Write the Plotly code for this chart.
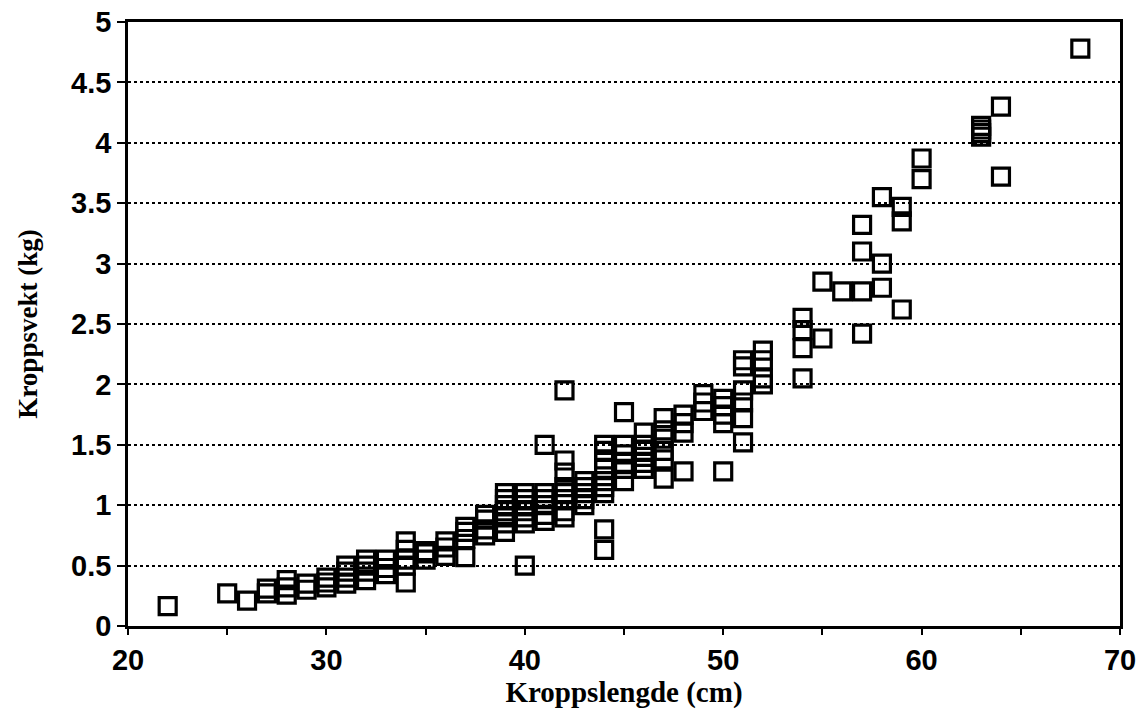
import plotly.graph_objects as go

# Body length (cm) and body weight (kg), grouped by length
lengths = [
    22,
    25,
    26,
    27, 27,
    28, 28, 28,
    29, 29,
    30, 30, 30,
    31, 31, 31, 31,
    32, 32, 32, 32,
    33, 33, 33,
    34, 34, 34, 34, 34,
    35, 35, 35,
    36, 36, 36,
    37, 37, 37, 37,
    38, 38, 38, 38,
    39, 39, 39, 39, 39, 39, 39,
    40, 40, 40, 40, 40, 40, 40,
    41, 41, 41, 41, 41, 41,
    42, 42, 42, 42, 42, 42, 42, 42,
    43, 43, 43, 43, 43,
    44, 44, 44, 44, 44, 44, 44, 44, 44,
    45, 45, 45, 45, 45, 45,
    46, 46, 46, 46, 46, 46,
    47, 47, 47, 47, 47, 47,
    48, 48, 48, 48,
    49, 49, 49,
    50, 50, 50, 50, 50,
    51, 51, 51, 51, 51, 51,
    52, 52, 52, 52,
    54, 54, 54, 54,
    55, 55,
    56,
    57, 57, 57, 57,
    58, 58, 58,
    59, 59, 59,
    60, 60,
    63, 63, 63, 63,
    64, 64,
    68,
]
weights = [
    0.165,
    0.27,
    0.21,
    0.27, 0.31,
    0.26, 0.32, 0.38,
    0.30, 0.35,
    0.32, 0.36, 0.40,
    0.35, 0.40, 0.45, 0.50,
    0.38, 0.45, 0.50, 0.55,
    0.43, 0.48, 0.55,
    0.36, 0.50, 0.55, 0.63, 0.70,
    0.55, 0.60, 0.62,
    0.58, 0.65, 0.70,
    0.57, 0.72, 0.78, 0.82,
    0.75, 0.80, 0.88, 0.92,
    0.78, 0.85, 0.90, 0.95, 1.00, 1.05, 1.10,
    0.50, 0.85, 0.90, 0.95, 1.00, 1.05, 1.10,
    0.87, 0.92, 1.00, 1.05, 1.10, 1.50,
    0.90, 0.95, 1.05, 1.10, 1.15, 1.27, 1.37, 1.95,
    1.00, 1.05, 1.10, 1.15, 1.20,
    0.63, 0.80, 1.10, 1.15, 1.20, 1.30, 1.38, 1.45, 1.50,
    1.20, 1.30, 1.35, 1.42, 1.50, 1.77,
    1.30, 1.35, 1.40, 1.45, 1.50, 1.60,
    1.22, 1.38, 1.45, 1.55, 1.62, 1.72,
    1.28, 1.60, 1.68, 1.75,
    1.78, 1.85, 1.92,
    1.28, 1.68, 1.75, 1.82, 1.88,
    1.52, 1.72, 1.85, 1.95, 2.15, 2.20,
    2.00, 2.05, 2.20, 2.28,
    2.05, 2.30, 2.45, 2.55,
    2.38, 2.85,
    2.77,
    2.42, 2.77, 3.10, 3.32,
    2.80, 3.00, 3.55,
    2.62, 3.35, 3.47,
    3.70, 3.87,
    4.05, 4.08, 4.11, 4.14,
    3.72, 4.30,
    4.78,
]

x_tickvals = [20, 30, 40, 50, 60, 70]
y_tickvals = [0, 0.5, 1, 1.5, 2, 2.5, 3, 3.5, 4, 4.5, 5]
y_ticktext = ["0", "0.5", "1", "1.5", "2", "2.5", "3", "3.5", "4", "4.5", "5"]

fig = go.Figure()
fig.add_trace(go.Scatter(
    x=lengths, y=weights, mode="markers",
    marker=dict(symbol="square-open", size=17, color="black",
                line=dict(width=3.2, color="black")),
    showlegend=False, cliponaxis=False,
))

fig.update_layout(
    width=1143, height=721,
    margin=dict(l=128, r=23, t=22, b=95, autoexpand=False),
    paper_bgcolor="white", plot_bgcolor="white",
    font=dict(family="Liberation Sans", color="black"),
    xaxis=dict(
        range=[20, 70], tickvals=x_tickvals, ticks="outside", ticklen=6,
        tickwidth=2, tickcolor="black", showline=True, linewidth=2.5,
        linecolor="black", mirror=True, showgrid=False, zeroline=False,
        automargin=False,
        tickfont=dict(size=29, family="Liberation Sans", weight="bold"),
        minor=dict(dtick=5, ticks="outside", ticklen=6, tickwidth=1.5, tickcolor="black"),
        title=dict(text="Kroppslengde (cm)", standoff=8,
                   font=dict(size=29, family="Liberation Serif", weight="bold")),
    ),
    yaxis=dict(
        range=[0, 5], tickvals=y_tickvals, ticktext=y_ticktext,
        ticks="outside", ticklen=8, tickwidth=2, tickcolor="black",
        showline=True, linewidth=2.5, linecolor="black", mirror=True,
        showgrid=True, gridcolor="black", gridwidth=1.5, griddash="dot",
        zeroline=False, automargin=False,
        tickfont=dict(size=29, family="Liberation Sans", weight="bold"),
        title=dict(text="Kroppsvekt (kg)", standoff=26,
                   font=dict(size=27, family="Liberation Serif", weight="bold")),
    ),
)

fig.write_html("out.html")
